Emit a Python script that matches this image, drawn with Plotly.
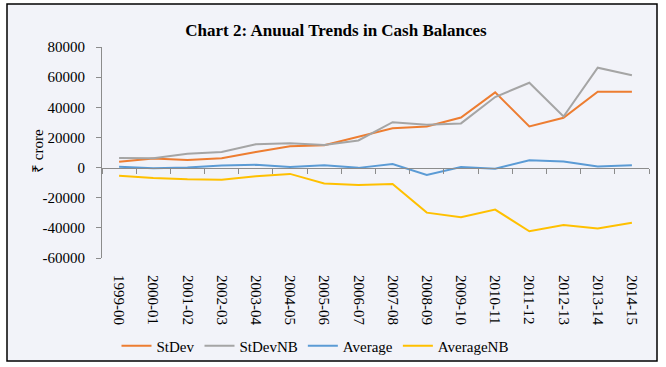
import plotly.graph_objects as go

years = ["1999-00", "2000-01", "2001-02", "2002-03", "2003-04", "2004-05", "2005-06", "2006-07",
         "2007-08", "2008-09", "2009-10", "2010-11", "2011-12", "2012-13", "2013-14", "2014-15"]
stdev = [3800, 6000, 5000, 6200, 10400, 14200, 14800, 20600, 26100, 27300, 33200, 49900, 27300, 33000, 50300, 50300]
stdev_nb = [6400, 6200, 9100, 10400, 15500, 16200, 15000, 18000, 30100, 28400, 29300, 46800, 56300, 33900, 66300, 61200]
average = [500, -500, 0, 1300, 1800, 400, 1500, -200, 2400, -4900, 400, -700, 4900, 4000, 700, 1600]
average_nb = [-5500, -6900, -7700, -8000, -5800, -4200, -10600, -11500, -10900, -29900, -33000, -27900, -42300, -38100, -40500, -36600]
y_ticks = [-60000, -40000, -20000, 0, 20000, 40000, 60000, 80000]
y_tick_labels = ["-60000", "-40000", "-20000", "0", "20000", "40000", "60000", "80000"]

series = [("StDev", stdev, "#ED7D31"), ("StDevNB", stdev_nb, "#A5A5A5"),
          ("Average", average, "#5B9BD5"), ("AverageNB", average_nb, "#FFC000")]

FONT = "Liberation Serif"
fig = go.Figure()
for name, vals, col in series:
    fig.add_trace(go.Scatter(x=years, y=vals, name=name, mode="lines",
                             line=dict(color=col, width=2)))
# dummy trace for the zero-line category axis
fig.add_trace(go.Scatter(x=years, y=[None] * len(years), xaxis="x2", showlegend=False,
                         hoverinfo="skip", mode="lines"))

L, R, T, B = 102, 17, 47, 109
W, H = 666, 367
pw = W - L - R
ph = H - T - B

def px2x(px):
    return (px - L) / pw

def py2y(py):
    return (H - B - py) / ph

fig.add_shape(type="rect", xref="paper", yref="paper",
              x0=px2x(7), x1=px2x(657), y0=py2y(361), y1=py2y(4),
              fillcolor="#F2F3F9", line=dict(color="#000000", width=1.5), layer="below")

fig.add_annotation(text="₹ crore", xref="paper", yref="paper", x=px2x(28), y=py2y(151),
                   textangle=-90, showarrow=False, font=dict(family=FONT, size=15, color="#000"))

fig.update_layout(
    width=W, height=H,
    margin=dict(l=L, r=R, t=T, b=B, autoexpand=False),
    paper_bgcolor="#FFFFFF",
    plot_bgcolor="rgba(0,0,0,0)",
    font=dict(family=FONT, size=15, color="#000"),
    title=dict(text="<b>Chart 2: Anuual Trends in Cash Balances</b>", x=336 / W, xanchor="center",
               y=1 - 30 / H, yanchor="middle", font=dict(family=FONT, size=17, color="#000")),
    xaxis=dict(type="category", categoryorder="array", categoryarray=years,
               range=[-0.5, 15.5], showline=False, showgrid=False, zeroline=False,
               tickangle=90, ticks="", ticklabelstandoff=16, automargin=False,
               tickfont=dict(family=FONT, size=15)),
    xaxis2=dict(type="category", categoryorder="array", categoryarray=years,
                overlaying="x", anchor="free", position=60000 / 140000, side="bottom",
                range=[-0.5, 15.5], showline=True, linecolor="#8C8C8C", linewidth=1,
                ticks="outside", ticklen=5, tickcolor="#8C8C8C", tickson="boundaries",
                showticklabels=False, showgrid=False, zeroline=False, automargin=False),
    yaxis=dict(range=[-60000, 80000], tickvals=y_ticks, ticktext=y_tick_labels,
               showline=True, linecolor="#8C8C8C", linewidth=1, automargin=False,
               ticks="outside", ticklen=5, tickcolor="#8C8C8C", showgrid=False, zeroline=False,
               ticklabelstandoff=8, tickfont=dict(family=FONT, size=15)),
    legend=dict(orientation="h", x=px2x(315), xanchor="center", y=py2y(346), yanchor="middle",
                bgcolor="rgba(0,0,0,0)", font=dict(family=FONT, size=15), itemwidth=30),
    showlegend=True,
)

fig.write_html("out.html", config={"displayModeBar": False},
               post_script="document.body.style.margin='0';document.body.style.padding='0';")
